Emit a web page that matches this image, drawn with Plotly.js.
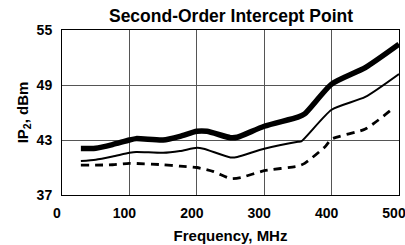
<!DOCTYPE html>
<html><head><script src="https://cdn.plot.ly/plotly-3.0.1.min.js"></script>
<style>body{margin:0}</style></head><body><div id="c" style="width:405px;height:245px"></div>
<script>
const xThick = [28, 50, 75, 100, 110, 150, 175, 200, 215, 250, 260, 300, 350, 360, 400, 450, 500];
const yThick = [42.06, 42.1, 42.5, 43.0, 43.15, 43.0, 43.4, 43.95, 43.95, 43.25, 43.3, 44.5, 45.5, 45.85, 49.1, 50.9, 53.45];
const xThin = [28, 50, 75, 100, 110, 150, 175, 200, 210, 250, 260, 300, 350, 355, 400, 450, 500];
const yThin = [40.7, 40.85, 41.2, 41.6, 41.7, 41.6, 41.8, 42.15, 42.05, 41.1, 41.15, 42.05, 42.8, 42.85, 46.3, 47.7, 50.2];
const xDash = [28, 75, 100, 150, 175, 200, 225, 250, 265, 300, 350, 360, 390, 400, 450, 487];
const yDash = [40.25, 40.3, 40.45, 40.3, 40.15, 40.0, 39.55, 38.8, 38.9, 39.65, 40.15, 40.45, 42.25, 43.1, 44.2, 46.2];
const xTicks = [0, 100, 200, 300, 400, 500];
const yTicks = [37, 43, 49, 55];

const f = {family: 'Liberation Sans, Arial, sans-serif', color: '#000'};
Plotly.newPlot('c', [
  {x: xThick, y: yThick, mode: 'lines', line: {color: '#000', width: 5.5, shape: 'spline', smoothing: 0.6}},
  {x: xThin, y: yThin, mode: 'lines', line: {color: '#000', width: 2, shape: 'spline', smoothing: 0.6}},
  {x: xDash, y: yDash, mode: 'lines', line: {color: '#000', width: 2.8, dash: '8px,6px', shape: 'spline', smoothing: 0.6}}
], {
  width: 405, height: 245, showlegend: false,
  margin: {l: 62, r: 6, t: 30, b: 50},
  paper_bgcolor: '#fff', plot_bgcolor: '#fff',
  title: {text: '<b>Second-Order Intercept Point</b>', font: Object.assign({size: 17.5}, f), x: 231/405, xanchor: 'center', xref: 'container', y: 1 - 16/245, yanchor: 'middle', yref: 'container'},
  xaxis: {range: [0, 500], tickvals: xTicks, ticktext: xTicks.map(v => '<b>' + v + '</b>'), tickfont: Object.assign({size: 14}, f),
    ticklabeloverflow: 'allow', ticklabelshift: -5, ticklabelstandoff: 5,
    showgrid: true, gridcolor: '#555', gridwidth: 1, zeroline: false, showline: true, mirror: true, linecolor: '#000', linewidth: 1, ticks: '', ticklen: 0,
    title: {text: '<b>Frequency, MHz</b>', font: Object.assign({size: 15}, f), standoff: 10}},
  yaxis: {range: [37, 55], tickvals: yTicks, ticktext: yTicks.map(v => '<b>' + v + '</b>'), tickfont: Object.assign({size: 14}, f),
    ticklabeloverflow: 'allow', ticklabelstandoff: 6,
    showgrid: true, gridcolor: '#555', gridwidth: 1, zeroline: false, showline: true, mirror: true, linecolor: '#000', linewidth: 1, ticks: '',
    title: {text: '<b>IP<sub>2</sub>, dBm</b>', font: Object.assign({size: 15}, f), standoff: 4}}
}, {displayModeBar: false, staticPlot: true});
</script></body></html>
